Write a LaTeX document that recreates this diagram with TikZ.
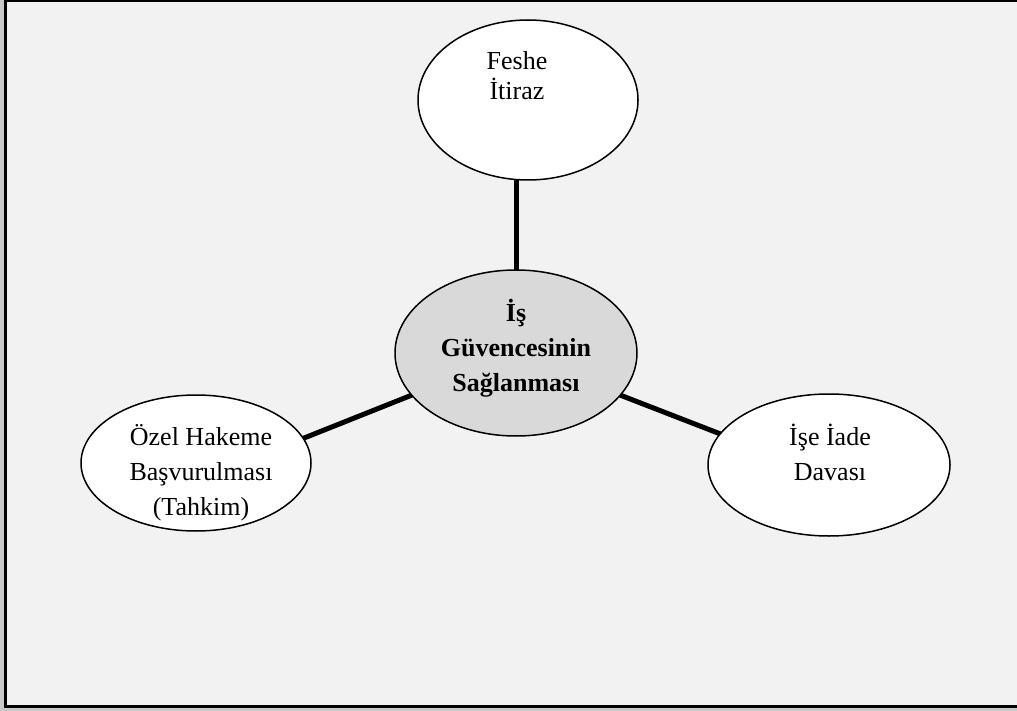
\documentclass[tikz,border=0pt]{standalone}
\usepackage{fontspec}
\setmainfont{Liberation Serif}
\usetikzlibrary{shapes.geometric}
\pgfdeclarelayer{back}
\pgfsetlayers{back,main}
\definecolor{pagebg}{HTML}{F2F2F2}
\definecolor{edgegray}{HTML}{C8C8C8}
\definecolor{hubfill}{HTML}{D9D9D9}
\tikzset{
  bubble/.style={ellipse, draw=black, line width=1.5pt, fill=white, inner sep=0pt},
  hub/.style={bubble, fill=hubfill},
  lbl/.style={align=center, anchor=base, inner sep=0pt, font=\fontsize{26}{35}\selectfont},
  hublbl/.style={lbl, font=\fontsize{26}{35}\selectfont\bfseries},
  spoke/.style={line width=5pt, shorten <=-4pt, shorten >=-4pt}
}
\begin{document}
\begin{tikzpicture}[x=1pt,y=-1pt]
  \useasboundingbox (0,0) rectangle (1017,711);
  % page and frame
  \begin{pgfonlayer}{back}
    \fill[edgegray] (0,0) rectangle (1017,711);
    \fill[pagebg] (4,0) rectangle (1017,707);
    \draw[line width=2pt] (4,1) -- (1017,1);
    \draw[line width=3pt] (5.5,0) -- (5.5,708);
    \draw[line width=3pt] (4,706.5) -- (1017,706.5);
  \end{pgfonlayer}

  % ellipses
  \node[hub, minimum width=242pt, minimum height=166pt] (c) at (516,353) {};
  \node[bubble, minimum width=220pt, minimum height=160pt] (top) at (528,100) {};
  \node[bubble, minimum width=230pt, minimum height=136pt] (left) at (196,463) {};
  \node[bubble, minimum width=242pt, minimum height=142pt] (right) at (829,465) {};

  % labels (anchored at the baseline of their last line)
  \node[hublbl] (ctext) at (516,391.7) {İş\\Güvencesinin\\Sağlanması};
  \node[lbl, font=\fontsize{26}{30}\selectfont] (ttext) at (517,100) {Feshe\\ İtiraz};
  \node[lbl] (ltext) at (201,515) {Özel Hakeme\\Başvurulması\\(Tahkim)};
  \node[lbl] (rtext) at (830,480) {İşe İade\\Davası};

  % connectors, behind the ellipses
  \begin{pgfonlayer}{back}
    \draw[spoke] (c.north) -- (c.north |- top.south);
    \draw[spoke] (c.202.3) -- (left.13.7);
    \draw[spoke] (c.-22.5) -- (right.164.3);
  \end{pgfonlayer}
\end{tikzpicture}
\end{document}
